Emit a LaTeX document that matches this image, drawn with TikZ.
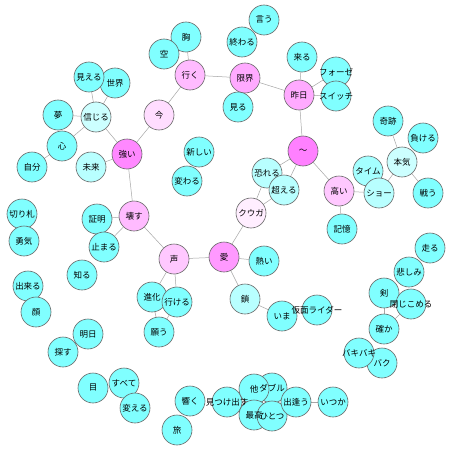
\documentclass[tikz,border=0pt]{standalone}
\usepackage{fontspec}
\setmainfont{Noto Sans CJK JP}
\usetikzlibrary{backgrounds}
\definecolor{cy}{HTML}{80FFFF}
\definecolor{cyA}{HTML}{A4FFFF}
\definecolor{cyB}{HTML}{B8FFFF}
\definecolor{cyC}{HTML}{CCFFFF}
\definecolor{pkA}{HTML}{FF80FF}
\definecolor{pkB}{HTML}{FF88FF}
\definecolor{pkC}{HTML}{FF99FF}
\definecolor{pkD}{HTML}{FFAAFF}
\definecolor{pkE}{HTML}{FFBBFF}
\definecolor{pkF}{HTML}{FFC8FF}
\definecolor{pkG}{HTML}{FFDDFF}
\definecolor{pkH}{HTML}{FFEEFF}
\newcommand{\wideword}[1]{\makebox[0pt]{#1}}
\begin{document}
\begin{tikzpicture}[x=1pt,y=-1pt,
  word/.style={circle,minimum size=30pt,inner sep=0pt,font=\fontsize{8.5}{9}\selectfont},
  disk/.style={draw=black!60,line width=0.6pt},
  link/.style={draw=black!35,line width=0.5pt}]
\useasboundingbox (0,0) rectangle (452,452);
\node[word] (mune) at (186,37) {胸};
\node[word] (sora) at (164,54) {空};
\node[word] (iku) at (190,75) {行く};
\node[word] (mieru) at (89,77) {見える};
\node[word] (sekai) at (115,83) {世界};
\node[word] (shinjiru) at (96,117) {信じる};
\node[word] (yume) at (58,115) {夢};
\node[word] (kokoro) at (62,146) {心};
\node[word] (ima) at (159,115) {今};
\node[word] (tsuyoi) at (127,154) {強い};
\node[word] (atarashii) at (199,152) {新しい};
\node[word] (iu) at (264,20) {言う};
\node[word] (owaru) at (242,42) {終わる};
\node[word] (kuru) at (302,57) {来る};
\node[word] (genkai) at (245,78) {限界};
\node[word] (fourze) at (336,72) {\wideword{フォーゼ}};
\node[word] (kinou) at (299,95) {昨日};
\node[word] (switch) at (336,96) {\wideword{スイッチ}};
\node[word] (miru) at (238,107) {見る};
\node[word] (kiseki) at (388,121) {奇跡};
\node[word] (makeru) at (423,138) {負ける};
\node[word] (nami) at (303,151) {～};
\node[word] (jibun) at (32,167) {自分};
\node[word] (mirai) at (91,167) {未来};
\node[word] (kawaru) at (187,181) {変わる};
\node[word] (kirifuda) at (22,214) {切り札};
\node[word] (shoumei) at (97,219) {証明};
\node[word] (kowasu) at (134,216) {壊す};
\node[word] (yuuki) at (24,241) {勇気};
\node[word] (tomaru) at (104,247) {止まる};
\node[word] (koe) at (174,259) {声};
\node[word] (shiru) at (82,275) {知る};
\node[word] (dekiru) at (28,286) {出来る};
\node[word] (shinka) at (152,297) {進化};
\node[word] (ikeru) at (177,302) {行ける};
\node[word] (osoreru) at (267,173) {恐れる};
\node[word] (koeru) at (284,190) {超える};
\node[word] (time) at (368,171) {タイム};
\node[word] (honki) at (402,162) {本気};
\node[word] (takai) at (339,191) {高い};
\node[word] (show) at (379,193) {ショー};
\node[word] (tatakau) at (428,193) {戦う};
\node[word] (kuuga) at (251,213) {クウガ};
\node[word] (kioku) at (342,229) {記憶};
\node[word] (ai) at (224,257) {愛};
\node[word] (atsui) at (264,261) {熱い};
\node[word] (hashiru) at (430,248) {走る};
\node[word] (kanashimi) at (409,272) {悲しみ};
\node[word] (tsurugi) at (384,293) {剣};
\node[word] (tojikomeru) at (411,304) {\wideword{閉じこめる}};
\node[word] (kusari) at (245,299) {鎖};
\node[word] (imaH) at (282,316) {いま};
\node[word] (kamen) at (317,310) {\wideword{仮面ライダー}};
\node[word] (kao) at (36,312) {顔};
\node[word] (ashita) at (88,334) {明日};
\node[word] (sagasu) at (63,352) {探す};
\node[word] (negau) at (159,332) {願う};
\node[word] (tashika) at (384,329) {確か};
\node[word] (bakibaki) at (359,353) {\wideword{バキバキ}};
\node[word] (baku) at (382,363) {バク};
\node[word] (me) at (93,388) {目};
\node[word] (subete) at (124,383) {すべて};
\node[word] (kaeru) at (135,408) {変える};
\node[word] (hibiku) at (190,401) {響く};
\node[word] (tabi) at (177,430) {旅};
\node[word] (mitsuke) at (227,402) {\wideword{見つけ出す}};
\node[word] (hoka) at (254,389) {他};
\node[word] (double) at (272,388) {ダブル};
\node[word] (saikou) at (254,415) {最高};
\node[word] (hitotsu) at (272,416) {ひとつ};
\node[word] (deau) at (296,402) {出逢う};
\node[word] (itsuka) at (333,402) {いつか};
\begin{scope}[on background layer]
\fill[white] (0,0) rectangle (452,452);
\draw[link] (mune) -- (iku);
\draw[link] (iku) -- (genkai);
\draw[link] (iku) -- (ima);
\draw[link] (ima) -- (tsuyoi);
\draw[link] (mieru) -- (shinjiru);
\draw[link] (sekai) -- (shinjiru);
\draw[link] (yume) -- (shinjiru);
\draw[link] (kokoro) -- (shinjiru);
\draw[link] (kokoro) -- (jibun);
\draw[link] (shinjiru) -- (tsuyoi);
\draw[link] (mirai) -- (tsuyoi);
\draw[link] (tsuyoi) -- (kowasu);
\draw[link] (kowasu) -- (shoumei);
\draw[link] (kowasu) -- (tomaru);
\draw[link] (kowasu) -- (koe);
\draw[link] (koe) -- (ai);
\draw[link] (koe) -- (shinka);
\draw[link] (koe) -- (ikeru);
\draw[link] (shinka) -- (negau);
\draw[link] (ikeru) -- (negau);
\draw[link] (ai) -- (atsui);
\draw[link] (ai) -- (kusari);
\draw[link] (ai) -- (kuuga);
\draw[link] (kusari) -- (imaH);
\draw[link] (kuuga) -- (osoreru);
\draw[link] (kuuga) -- (koeru);
\draw[link] (osoreru) -- (nami);
\draw[link] (koeru) -- (nami);
\draw[link] (nami) -- (kinou);
\draw[link] (nami) -- (takai);
\draw[link] (kinou) -- (genkai);
\draw[link] (kinou) -- (kuru);
\draw[link] (kinou) -- (fourze);
\draw[link] (kinou) -- (switch);
\draw[link] (takai) -- (kioku);
\draw[link] (takai) -- (show);
\draw[link] (show) -- (honki);
\draw[link] (honki) -- (kiseki);
\draw[link] (honki) -- (tatakau);
\draw[link] (tsurugi) -- (tashika);
\draw[link] (tojikomeru) -- (tashika);
\draw[link] (deau) -- (itsuka);
\draw[disk,fill=cy] (mune.center) circle (15pt);
\draw[disk,fill=cy] (sora.center) circle (15pt);
\draw[disk,fill=pkE] (iku.center) circle (15pt);
\draw[disk,fill=cy] (sekai.center) circle (15pt);
\draw[disk,fill=cy] (mieru.center) circle (15pt);
\draw[disk,fill=cyC] (shinjiru.center) circle (15pt);
\draw[disk,fill=cy] (yume.center) circle (15pt);
\draw[disk,fill=cy] (kokoro.center) circle (15pt);
\draw[disk,fill=pkG] (ima.center) circle (15pt);
\draw[disk,fill=pkB] (tsuyoi.center) circle (15pt);
\draw[disk,fill=cy] (atarashii.center) circle (15pt);
\draw[disk,fill=cy] (iu.center) circle (15pt);
\draw[disk,fill=cy] (owaru.center) circle (15pt);
\draw[disk,fill=cy] (kuru.center) circle (15pt);
\draw[disk,fill=pkD] (genkai.center) circle (15pt);
\draw[disk,fill=cy] (fourze.center) circle (15pt);
\draw[disk,fill=pkD] (kinou.center) circle (15pt);
\draw[disk,fill=cy] (switch.center) circle (15pt);
\draw[disk,fill=cy] (miru.center) circle (15pt);
\draw[disk,fill=cy] (kiseki.center) circle (15pt);
\draw[disk,fill=cy] (makeru.center) circle (15pt);
\draw[disk,fill=pkA] (nami.center) circle (15pt);
\draw[disk,fill=cy] (jibun.center) circle (15pt);
\draw[disk,fill=cyB] (mirai.center) circle (15pt);
\draw[disk,fill=cy] (kawaru.center) circle (15pt);
\draw[disk,fill=cy] (kirifuda.center) circle (15pt);
\draw[disk,fill=cy] (yuuki.center) circle (15pt);
\draw[disk,fill=cy] (shoumei.center) circle (15pt);
\draw[disk,fill=pkE] (kowasu.center) circle (15pt);
\draw[disk,fill=cy] (tomaru.center) circle (15pt);
\draw[disk,fill=pkF] (koe.center) circle (15pt);
\draw[disk,fill=cy] (shiru.center) circle (15pt);
\draw[disk,fill=cy] (dekiru.center) circle (15pt);
\draw[disk,fill=cy] (shinka.center) circle (15pt);
\draw[disk,fill=cy] (ikeru.center) circle (15pt);
\draw[disk,fill=cyB] (osoreru.center) circle (15pt);
\draw[disk,fill=cyB] (koeru.center) circle (15pt);
\draw[disk,fill=cyA] (time.center) circle (15pt);
\draw[disk,fill=cyC] (honki.center) circle (15pt);
\draw[disk,fill=pkF] (takai.center) circle (15pt);
\draw[disk,fill=cyB] (show.center) circle (15pt);
\draw[disk,fill=cy] (tatakau.center) circle (15pt);
\draw[disk,fill=pkH] (kuuga.center) circle (15pt);
\draw[disk,fill=cy] (kioku.center) circle (15pt);
\draw[disk,fill=pkC] (ai.center) circle (15pt);
\draw[disk,fill=cy] (atsui.center) circle (15pt);
\draw[disk,fill=cy] (hashiru.center) circle (15pt);
\draw[disk,fill=cy] (kanashimi.center) circle (15pt);
\draw[disk,fill=cy] (tsurugi.center) circle (15pt);
\draw[disk,fill=cy] (tojikomeru.center) circle (15pt);
\draw[disk,fill=cyB] (kusari.center) circle (15pt);
\draw[disk,fill=cy] (imaH.center) circle (15pt);
\draw[disk,fill=cy] (kamen.center) circle (15pt);
\draw[disk,fill=cy] (kao.center) circle (15pt);
\draw[disk,fill=cy] (ashita.center) circle (15pt);
\draw[disk,fill=cy] (sagasu.center) circle (15pt);
\draw[disk,fill=cy] (negau.center) circle (15pt);
\draw[disk,fill=cy] (tashika.center) circle (15pt);
\draw[disk,fill=cy] (baku.center) circle (15pt);
\draw[disk,fill=cy] (bakibaki.center) circle (15pt);
\draw[disk,fill=cy] (me.center) circle (15pt);
\draw[disk,fill=cy] (subete.center) circle (15pt);
\draw[disk,fill=cy] (kaeru.center) circle (15pt);
\draw[disk,fill=cy] (hibiku.center) circle (15pt);
\draw[disk,fill=cy] (tabi.center) circle (15pt);
\draw[disk,fill=cy] (mitsuke.center) circle (15pt);
\draw[disk,fill=cy] (double.center) circle (15pt);
\draw[disk,fill=cy] (hoka.center) circle (15pt);
\draw[disk,fill=cy] (saikou.center) circle (15pt);
\draw[disk,fill=cy] (hitotsu.center) circle (15pt);
\draw[disk,fill=cy] (deau.center) circle (15pt);
\draw[disk,fill=cy] (itsuka.center) circle (15pt);
\end{scope}
\end{tikzpicture}
\end{document}
